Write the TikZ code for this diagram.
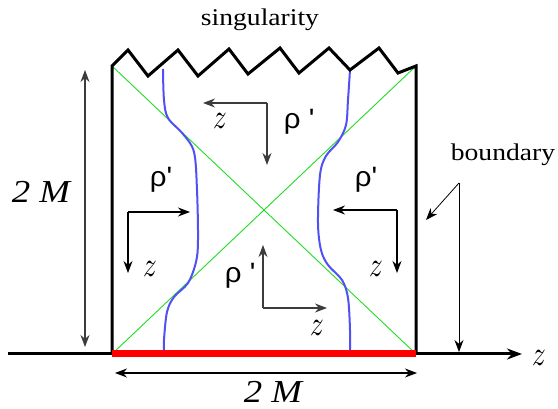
\documentclass[tikz,border=0pt]{standalone}
\usepackage{fontspec}
\setmainfont{Liberation Serif}[FakeStretch=1.15]
\newfontfamily\rhofont{Liberation Sans}[FakeStretch=1.05]
\usetikzlibrary{arrows.meta}
\definecolor{horizon}{HTML}{22DD22}
\definecolor{brane}{HTML}{5050F5}
\definecolor{hot}{HTML}{FF0000}
\definecolor{mute}{HTML}{3C3C3C}
\tikzset{
  >={Stealth[length=12pt,width=9pt]},
  wall/.style={line width=3pt},
  hor/.style={draw=horizon,line width=0.9pt},
  bcurve/.style={draw=brane,line width=2pt},
  frm/.style={->,line width=1.2pt},
  lab/.style={font=\fontsize{24}{28}\selectfont,inner sep=0pt},
  mlab/.style={font=\fontsize{32}{36}\selectfont\itshape,inner sep=0pt},
  rlab/.style={font=\fontsize{28}{32}\selectfont\rhofont,inner sep=0pt},
  zlab/.style={inner sep=0pt,xscale=2.7,yscale=3.5},
}
\begin{document}
\begin{tikzpicture}[x=1pt,y=-1pt]
\useasboundingbox (0,0) rectangle (558,409);
\coordinate (tl) at (112,66);
\coordinate (tr) at (416,66);
\coordinate (bl) at (112,354);
\coordinate (br) at (416,354);
\coordinate (axl) at (8,354);
\coordinate (axr) at (522,354);
% horizons
\draw[hor] (tl) -- (br);
\draw[hor] (tr) -- (bl);
% probe branes
\draw[bcurve] plot[smooth,tension=0.55] coordinates {(163,69) (164,100) (168,118) (183,134) (194,152) (197,190) (198,240) (196,262) (188,283) (174,297) (167,312) (164,340) (164,354)};
\draw[bcurve] plot[smooth,tension=0.55] coordinates {(350,70) (348,100) (346,125) (338,142) (326,156) (320,175) (318,223) (321,250) (328,265) (342,280) (348,298) (350,330) (350,354)};
% walls, singularity, axis
\draw[wall] (bl) -- (tl) -- (128,50) -- (148,76) -- (178,50) -- (198,76) -- (229,49) -- (248,74) -- (280,48) -- (299,73) -- (329,48) -- (350,70) -- (379,48) -- (398,73) -- (tr) -- (br);
\draw[wall] (axl) -- (bl);
\draw[wall,-{Stealth[length=15pt,width=11pt]}] (br) -- (axr);
\draw[hot,line width=7pt] (bl) -- (br);
\node[zlab] (zax) at (539,358) {$z$};
\node[lab] (sing) at (260,20) {singularity};
% sizes
\coordinate (vt) at (85,70);
\coordinate (vb) at (85,347);
\draw[<->,mute,line width=1.2pt] (vt) -- (vb);
\node[mlab] (mv) at (41,192) {2 M};
\coordinate (hl) at (115,373);
\coordinate (hr) at (417,373);
\draw[<->,line width=1.2pt] (hl) -- (hr);
\node[mlab] (mh) at (273,392) {2 M};
% boundary
\node[lab] (bnd) at (503,155) {boundary};
\coordinate (bs) at (459,183);
\coordinate (bw) at (426,220);
\coordinate (ba) at (459,352);
\draw[->,line width=0.8pt] (bs) -- (bw);
\draw[->,line width=0.8pt] (bs) -- (ba);
% local frames
\coordinate (ct) at (267,103);
\draw[frm,mute] (ct) -- (203,103);
\draw[frm,mute] (ct) -- (267,165);
\node[zlab] (zt) at (220,121) {$z$};
\node[rlab] (rt) at (299,122) {ρ \textquotesingle};
\coordinate (cl) at (128,212);
\draw[frm] (cl) -- (190,212);
\draw[frm] (cl) -- (128,273);
\node[rlab] (rl) at (161,180) {ρ\textquotesingle};
\node[zlab] (zl) at (150,269) {$z$};
\coordinate (cr) at (397,210);
\draw[frm] (cr) -- (333,210);
\draw[frm] (cr) -- (397,273);
\node[rlab] (rr) at (366,180) {ρ\textquotesingle};
\node[zlab] (zr) at (376,269) {$z$};
\coordinate (cb) at (263,308);
\draw[frm,mute] (cb) -- (263,245);
\draw[frm,mute] (cb) -- (327,308);
\node[rlab] (rb) at (240,276) {ρ \textquotesingle};
\node[zlab] (zb) at (317,328) {$z$};
\end{tikzpicture}
\end{document}
